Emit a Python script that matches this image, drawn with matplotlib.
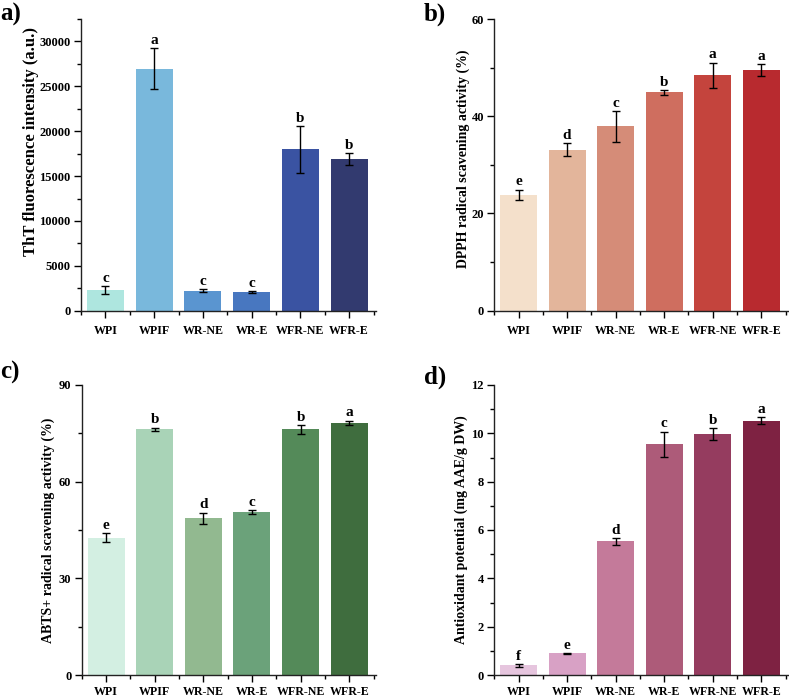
import matplotlib
matplotlib.use('Agg')
import matplotlib.pyplot as plt
import numpy as np
from matplotlib.ticker import MultipleLocator

plt.rcParams['font.family'] = ['Liberation Serif', 'DejaVu Serif']
plt.rcParams['font.weight'] = 'bold'

samples = ['WPI', 'WPIF', 'WR-NE', 'WR-E', 'WFR-NE', 'WFR-E']

tht_mean = [2300, 26950, 2230, 2045, 17990, 16910]
tht_err = [420, 2300, 200, 100, 2600, 630]
tht_letters = ['c', 'a', 'c', 'c', 'b', 'b']
tht_colors = ['#aee6df', '#79b8dc', '#5a95d0', '#4877c0', '#3a53a2', '#323a6f']

dpph_mean = [23.8, 33.1, 37.9, 44.9, 48.4, 49.5]
dpph_err = [1.05, 1.3, 3.1, 0.45, 2.65, 1.25]
dpph_letters = ['e', 'd', 'c', 'b', 'a', 'a']
dpph_colors = ['#f4e0cb', '#e3b59b', '#d58c78', '#cf6e5f', '#c4443d', '#b82a2f']

abts_mean = [42.6, 76.3, 48.6, 50.5, 76.2, 78.2]
abts_err = [1.4, 0.5, 1.75, 0.65, 1.45, 0.75]
abts_letters = ['e', 'b', 'd', 'c', 'b', 'a']
abts_colors = ['#d3efe2', '#a9d3b7', '#92b990', '#6ba27a', '#548a59', '#3f6d3e']

aop_mean = [0.40, 0.89, 5.54, 9.55, 9.97, 10.52]
aop_err = [0.06, 0.03, 0.14, 0.52, 0.24, 0.14]
aop_letters = ['f', 'e', 'd', 'c', 'b', 'a']
aop_colors = ['#e6c5de', '#d8a1c5', '#c47a9a', '#ad5b79', '#953c5f', '#7e2242']

W, H = 789, 697
fig = plt.figure(figsize=(W / 100, H / 100), dpi=100)


def make_axes(left, right, top, bottom):
    return fig.add_axes([left / W, 1 - bottom / H, (right - left) / W, (bottom - top) / H])


def draw_panel(ax, mean, err, letters, colors, ymax, major, minor, ylabel, ylsize, off, xpad):
    x = np.arange(len(samples))
    ax.bar(x, mean, width=0.76, color=colors, zorder=2)
    ax.errorbar(x, mean, yerr=err, fmt='none', ecolor='black', elinewidth=1.0,
                capsize=3, capthick=1.0, zorder=3)
    for xi, m, e, l in zip(x, mean, err, letters):
        ax.text(xi, m + e + off, l, ha='center', va='bottom', fontsize=11, fontweight='bold')
    ax.set_xlim(-0.5, 5.55)
    ax.set_ylim(0, ymax)
    ax.set_xticks(x)
    ax.set_xticklabels(samples)
    ax.set_xticks(np.arange(-0.5, 6, 1), minor=True)
    ax.yaxis.set_major_locator(MultipleLocator(major))
    ax.yaxis.set_minor_locator(MultipleLocator(minor))
    ax.tick_params(which='major', direction='out', length=5, width=1, labelsize=9, pad=2.5)
    ax.tick_params(which='minor', direction='out', length=3, width=1)
    ax.tick_params(axis='x', which='major', labelsize=8.6, pad=xpad)
    for lab in ax.get_xticklabels() + ax.get_yticklabels():
        lab.set_fontweight('bold')
    ax.spines['top'].set_visible(False)
    ax.spines['right'].set_visible(False)
    for s in ['left', 'bottom']:
        ax.spines[s].set_linewidth(1.0)
        ax.spines[s].set_color('#222222')
    ax.set_ylabel(ylabel, fontsize=ylsize, fontweight='bold')


ax1 = make_axes(81, 376, 19, 310.7)
draw_panel(ax1, tht_mean, tht_err, tht_letters, tht_colors, 32500, 5000, 2500,
           'ThT fluorescence intensity (a.u.)', 12, 150, 5)
ax1.yaxis.set_label_coords(-0.142, 0.58)

ax2 = make_axes(494.3, 788, 19, 310.7)
draw_panel(ax2, dpph_mean, dpph_err, dpph_letters, dpph_colors, 60, 20, 10,
           'DPPH radical scavening activity (%)', 10, 0.3, 5)
ax2.yaxis.set_label_coords(-0.083, 0.52)

ax3 = make_axes(81.7, 376, 385, 675)
draw_panel(ax3, abts_mean, abts_err, abts_letters, abts_colors, 90, 30, 15,
           'ABTS+ radical scavening activity (%)', 10, 0.4, 3)
ax3.yaxis.set_label_coords(-0.091, 0.5)

ax4 = make_axes(494.3, 788, 385, 675)
draw_panel(ax4, aop_mean, aop_err, aop_letters, aop_colors, 12, 2, 1,
           'Antioxidant potential (mg AAE/g DW)', 10, 0.05, 3)
ax4.yaxis.set_label_coords(-0.09, 0.5)

fig.text(0 / W, 1 - 14 / H, 'a)', fontsize=18, fontweight='bold', ha='left', va='center')
fig.text(424 / W, 1 - 14 / H, 'b)', fontsize=18, fontweight='bold', ha='left', va='center')
fig.text(0 / W, 1 - 372 / H, 'c)', fontsize=18, fontweight='bold', ha='left', va='center')
fig.text(424 / W, 1 - 377 / H, 'd)', fontsize=18, fontweight='bold', ha='left', va='center')

fig.savefig('out.png', dpi=100)
